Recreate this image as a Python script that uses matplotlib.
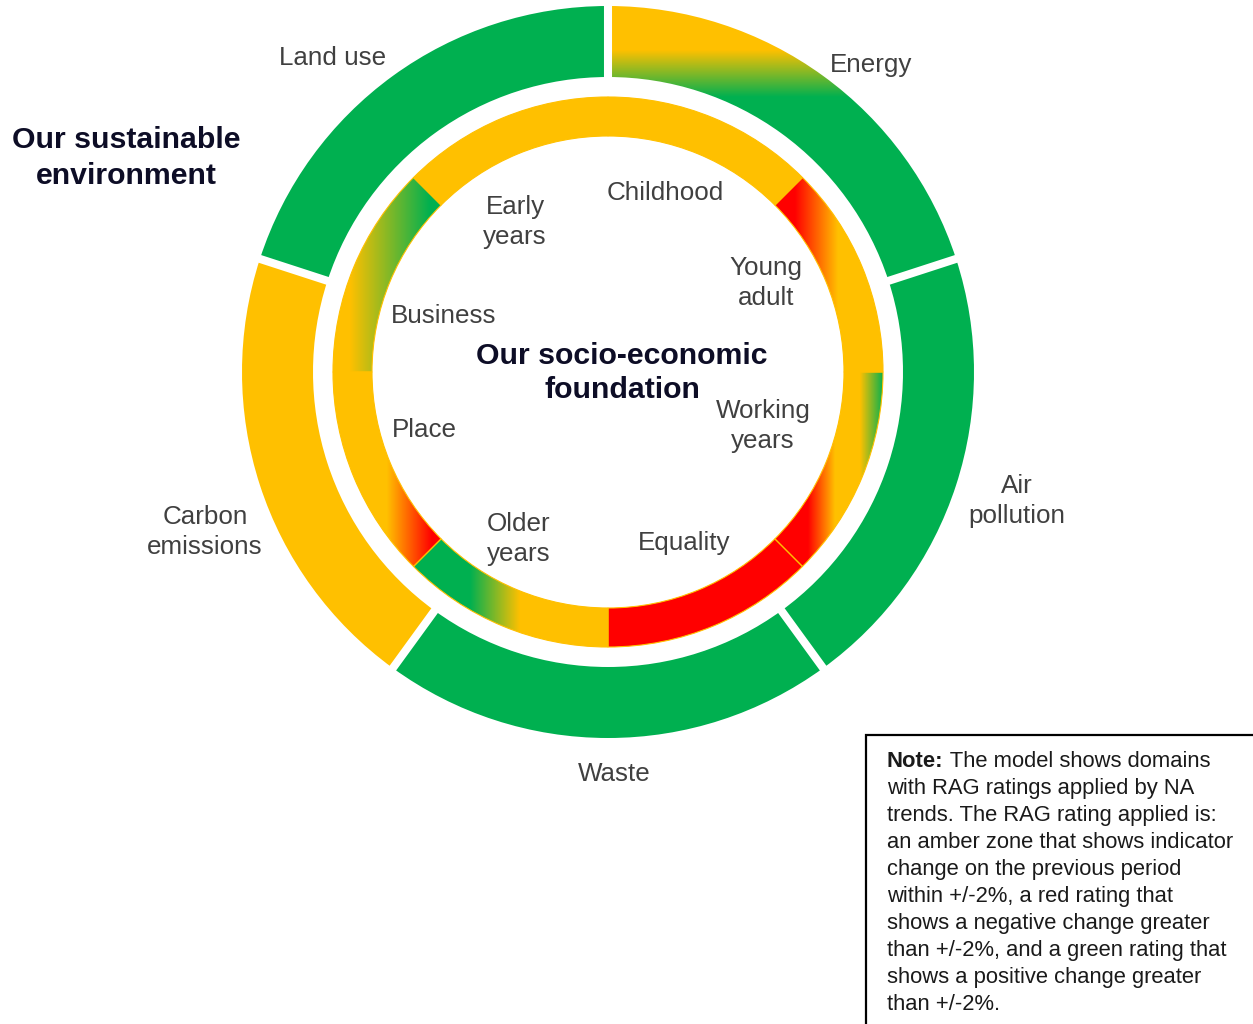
import numpy as np
import matplotlib.pyplot as plt
from matplotlib.patches import Wedge, Rectangle
from matplotlib.colors import to_rgb

plt.rcParams['font.family'] = ['Liberation Sans', 'DejaVu Sans']

# ---- data ----
# outer ring, clockwise from 12 o'clock
outer_labels = ["Energy", "Air\npollution", "Waste", "Carbon\nemissions", "Land use"]
outer_rag = [["A", "G"], ["G"], ["G"], ["A"], ["G"]]

# inner ring, clockwise from 12 o'clock
inner_labels = ["Childhood", "Young\nadult", "Working\nyears", "Equality",
                "Older\nyears", "Place", "Business", "Early\nyears"]
inner_rag = [["A"], ["R", "A"], ["R", "A", "A", "G"], ["R"],
             ["G", "A"], ["A", "R"], ["A", "G"], ["A"]]

note_lines = ["The model shows domains",
              "with RAG ratings applied by NA",
              "trends. The RAG rating applied is:",
              "an amber zone that shows indicator",
              "change on the previous period",
              "within +/-2%, a red rating that",
              "shows a negative change greater",
              "than +/-2%, and a green rating that",
              "shows a positive change greater",
              "than +/-2%."]

# ---- style ----
COL = {"G": "#00B050", "A": "#FFC000", "R": "#FF0000"}
W, H = 1253, 1024
cx, cy = 608, 372
outer_r = (295, 366)
inner_r = (236, 275)

# gradient direction and stop positions (pixels) for blended segments
grad_stops = {
    "Energy": ("y", [50, 97]),
    "Young\nadult": ("x", [795, 838]),
    "Working\nyears": ("x", [808, 835, 860, 884]),
    "Older\nyears": ("x", [470, 520]),
    "Place": ("x", [387, 432]),
    "Business": ("x", [350, 430]),
}

# label anchors: centre x, baseline of the last line
outer_pos = [(871, 72), (1017, 523), (614, 781), (205, 554), (333, 65)]
inner_pos = [(665, 200), (766, 305), (763, 448), (684, 550),
             (519, 561), (424, 437), (444, 323), (515, 244)]

fig = plt.figure(figsize=(W / 100, H / 100), dpi=100)
ax = fig.add_axes([0, 0, 1, 1])
ax.set_xlim(0, W)
ax.set_ylim(H, 0)
ax.axis('off')


def gradient_image(axis, stops, colors, r):
    x0, x1 = cx - r - 2, cx + r + 2
    y0, y1 = cy - r - 2, cy + r + 2
    xs = np.arange(x0, x1) + 0.5
    ys = np.arange(y0, y1) + 0.5
    rgb = np.array([to_rgb(COL[c]) for c in colors])
    coord = xs if axis == "x" else ys
    chans = np.stack([np.interp(coord, stops, rgb[:, k]) for k in range(3)], axis=-1)
    if axis == "x":
        img = np.broadcast_to(chans[None, :, :], (len(ys), len(xs), 3))
    else:
        img = np.broadcast_to(chans[:, None, :], (len(ys), len(xs), 3))
    im = ax.imshow(img, extent=(x0, x1, y1, y0), origin='upper',
                   interpolation='bilinear', zorder=2)
    return im


def draw_ring(labels, rag, radii, edge=None):
    r_in, r_out = radii
    step = 360 / len(labels)
    for i, (lab, cols) in enumerate(zip(labels, rag)):
        a2 = 90 - i * step
        a1 = a2 - step
        # y axis is flipped, so screen angles become negative data angles
        if len(cols) == 1:
            w = Wedge((cx, cy), r_out, -a2, -a1, width=r_out - r_in,
                      facecolor=COL[cols[0]], edgecolor='none', zorder=2)
            ax.add_patch(w)
        else:
            w = Wedge((cx, cy), r_out, -a2, -a1, width=r_out - r_in,
                      facecolor='none', edgecolor='none', zorder=2)
            ax.add_patch(w)
            axis, stops = grad_stops[lab]
            im = gradient_image(axis, stops, cols, r_out)
            im.set_clip_path(w)
        if edge is not None:
            ax.add_patch(Wedge((cx, cy), r_out, -a2, -a1, width=r_out - r_in,
                               facecolor='none', edgecolor=edge, lw=0.8, zorder=3))
    return step


step = draw_ring(outer_labels, outer_rag, outer_r)
for i in range(len(outer_labels)):
    a = np.deg2rad(90 - i * step)
    rr = np.array([outer_r[0] - 4, outer_r[1] + 4])
    ax.plot(cx + rr * np.cos(a), cy - rr * np.sin(a), color='white',
            lw=5.8, solid_capstyle='butt', zorder=4)

draw_ring(inner_labels, inner_rag, inner_r, edge=COL["A"])

ax.set_xlim(0, W)
ax.set_ylim(H, 0)

lab_kw = dict(fontsize=18.7, color='#404040', ha='center', va='baseline',
              linespacing=1.32, zorder=5)
for lab, (x, y) in zip(outer_labels, outer_pos):
    ax.text(x, y, lab, **lab_kw)
for lab, (x, y) in zip(inner_labels, inner_pos):
    ax.text(x, y, lab, **lab_kw)

title_kw = dict(fontsize=21.8, fontweight='bold', color='#0d0d26', ha='center',
                va='baseline', zorder=5)
ax.text(126, 184, "Our sustainable\nenvironment", linespacing=1.38, **title_kw)
ax.text(622, 398, "Our socio-economic\nfoundation", linespacing=1.28, **title_kw)

# note box
ax.add_patch(Rectangle((866, 735), 400, 300, facecolor='white',
                       edgecolor='black', lw=1.6, zorder=5, clip_on=False))
note_kw = dict(fontsize=15.8, color='#1a1a1a', ha='left', va='baseline', zorder=6)
bold = ax.text(887, 767, "Note:", fontweight='bold', **note_kw)
ax.annotate(" " + note_lines[0], xy=(1, 0), xycoords=bold, va='bottom',
            ha='left', fontsize=15.8, color='#1a1a1a', zorder=6)
for i, line in enumerate(note_lines[1:], start=1):
    ax.text(887, 767 + 27 * i, line, **note_kw)

fig.savefig('out.png', dpi=100)
